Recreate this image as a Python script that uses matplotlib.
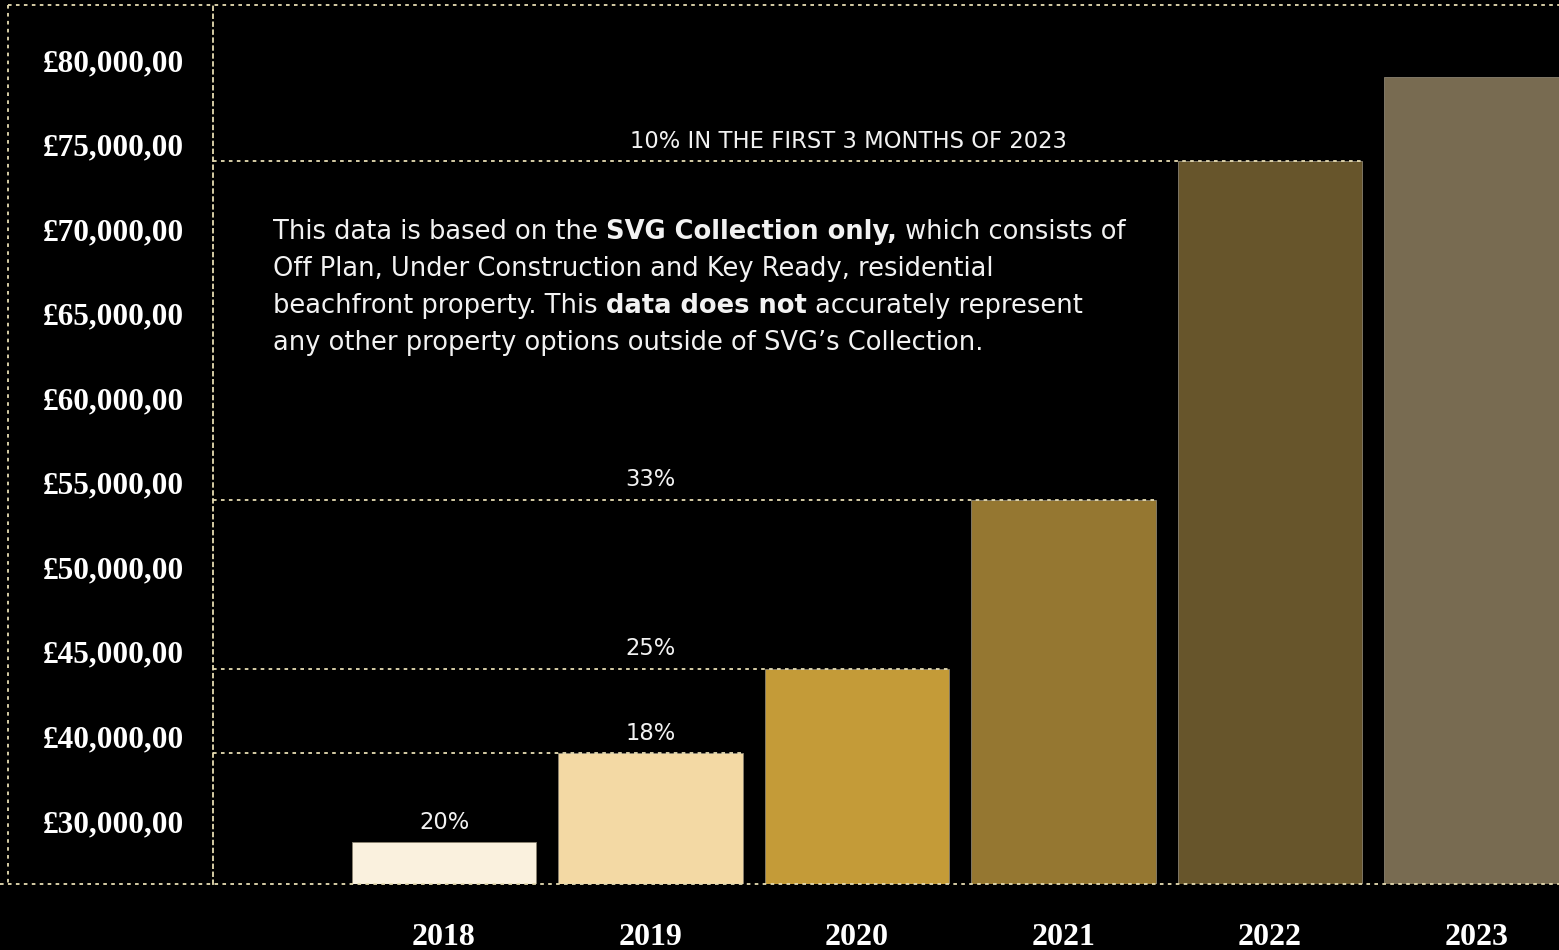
import numpy as np
import matplotlib

matplotlib.use("Agg")
import matplotlib.pyplot as plt
from matplotlib.lines import Line2D

# yearly average price (GBP), SVG collection
years = ["2018", "2019", "2020", "2021", "2022", "2023"]
prices = [27500, 38000, 44000, 54000, 74000, 79000]
bar_colors = ["#FAF1DE", "#F3D9A4", "#C49B38", "#957731", "#67552B", "#786B51"]

# price axis: ticks are evenly spaced although the steps are not
tick_values = [30000, 40000, 45000, 50000, 55000, 60000, 65000, 70000, 75000, 80000]
tick_labels = ["£30,000,00", "£40,000,00", "£45,000,00", "£50,000,00", "£55,000,00",
               "£60,000,00", "£65,000,00", "£70,000,00", "£75,000,00", "£80,000,00"]

# growth notes: text, bar whose top the note sits on, x anchor (bar index)
growth_text = ["20%", "18%", "25%", "33%", "10% IN THE FIRST 3 MONTHS OF 2023"]
growth_bar = [0, 1, 2, 3, 4]
growth_x = [0.0, 1.0, 1.0, 1.0, 1.96]

# bars whose top gets a dotted guide back to the price axis
guide_bars = [1, 2, 3, 4]

note_lines = [
    [("This data is based on the ", False), ("SVG Collection only,", True), (" which consists of", False)],
    [("Off Plan, Under Construction and Key Ready, residential", False)],
    [("beachfront property. This ", False), ("data does not", True), (" accurately represent", False)],
    [("any other property options outside of SVG\u2019s Collection.", False)],
]

LINE = "#E6DCB2"
TEXT = "#F2F2F2"
SANS = "DejaVu Sans"
SERIF = "Liberation Serif"

knot_v = np.array([0, 30000, 40000, 45000, 50000, 55000, 60000, 65000, 70000, 75000, 80000, 100000], float)
knot_p = np.array([-3, 0, 1, 2, 3, 4, 5, 6, 7, 8, 9, 13], float)


def _fwd(v):
    return np.interp(v, knot_v, knot_p)


def _inv(p):
    return np.interp(p, knot_p, knot_v)


W, H = 1559, 950
fig = plt.figure(figsize=(W / 100, H / 100), dpi=100, facecolor="black")
ax = fig.add_axes([213 / W, (H - 884) / H, (W - 213) / W, (884 - 5) / H])
ax.set_facecolor("black")
ax.set_yscale("function", functions=(_fwd, _inv))
y_floor = _inv(-0.745)
ax.set_ylim(y_floor, _inv(9.65))
ax.set_xlim(-1.119, 5.40)

x = np.arange(len(years))
width = 0.895
ax.bar(x, np.array(prices) - y_floor, bottom=y_floor, width=width, color=bar_colors,
       edgecolor="#8A8270", linewidth=0.6, zorder=2)

dots = dict(color=LINE, linestyle=(0, (2.0, 2.4)), linewidth=1.3, zorder=3)
for i in guide_bars:
    ax.plot([-1.119, x[i] + width / 2], [prices[i], prices[i]], **dots)

for txt, b, gx in zip(growth_text, growth_bar, growth_x):
    ax.annotate(txt, (gx, prices[b]), xytext=(0, 6), textcoords="offset points",
                ha="center", va="bottom", color=TEXT, fontsize=16.3, family=SANS, zorder=4)

ax.set_yticks(tick_values)
ax.set_yticklabels(tick_labels)
ax.set_xticks(x)
ax.set_xticklabels(years)
ax.tick_params(axis="y", length=0, pad=21, colors="white")
ax.tick_params(axis="x", length=0, pad=28, colors="white")
for lab in ax.get_yticklabels() + ax.get_xticklabels():
    lab.set_fontfamily(SERIF)
    lab.set_fontweight("bold")
for lab in ax.get_yticklabels():
    lab.set_fontsize(22.5)
for lab in ax.get_xticklabels():
    lab.set_fontsize(23)

for s in ["top", "right", "bottom"]:
    ax.spines[s].set_visible(False)
ax.spines["left"].set_color(LINE)
ax.spines["left"].set_linestyle((0, (2.0, 2.4)))
ax.spines["left"].set_linewidth(1.3)

# outer dotted frame drawn on the figure
fig.add_artist(Line2D([8 / W, 1], [1 - 5 / H, 1 - 5 / H], transform=fig.transFigure, **dots))
fig.add_artist(Line2D([8 / W, 8 / W], [1 - 5 / H, 1 - 884 / H], transform=fig.transFigure, **dots))
base = dict(dots)
base["zorder"] = 5
fig.add_artist(Line2D([0, 1], [1 - 884 / H, 1 - 884 / H], transform=fig.transFigure, **base))

# disclaimer paragraph with bold runs, laid out run by run on a shared baseline
renderer = fig.canvas.get_renderer()
fs = 18.5
for k, runs in enumerate(note_lines):
    yk = 1 - (239 + k * 37) / H
    xk = 273
    for text, bold in runs:
        t = fig.text(xk / W, yk, text, color=TEXT, fontsize=fs, family=SANS,
                     fontweight="bold" if bold else "normal", va="baseline", ha="left")
        bb = t.get_window_extent(renderer)
        xk += bb.width

fig.savefig("out.png", dpi=100, facecolor="black")
